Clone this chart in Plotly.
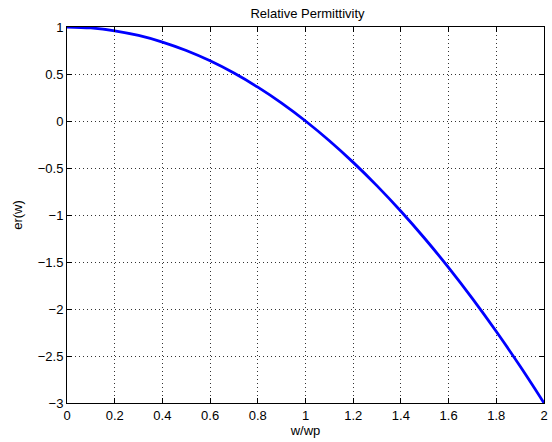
import plotly.graph_objects as go

# Values
w_over_wp = [0.0, 0.1, 0.2, 0.3, 0.4, 0.5, 0.6, 0.7, 0.8, 0.9, 1.0,
             1.1, 1.2, 1.3, 1.4, 1.5, 1.6, 1.7, 1.8, 1.9, 2.0]
er_w = [1.0, 0.99, 0.96, 0.91, 0.84, 0.75, 0.64, 0.51, 0.36, 0.19, 0.0,
        -0.21, -0.44, -0.69, -0.96, -1.25, -1.56, -1.89, -2.24, -2.61, -3.0]

x_ticks = [0, 0.2, 0.4, 0.6, 0.8, 1, 1.2, 1.4, 1.6, 1.8, 2]
x_tick_labels = ["0", "0.2", "0.4", "0.6", "0.8", "1", "1.2", "1.4", "1.6", "1.8", "2"]
y_ticks = [1, 0.5, 0, -0.5, -1, -1.5, -2, -2.5, -3]
y_tick_labels = ["1", "0.5", "0", "\u22120.5", "\u22121", "\u22121.5", "\u22122", "\u22122.5", "\u22123"]

FONT = "Liberation Sans, Arial, Helvetica, sans-serif"

fig = go.Figure()
fig.add_trace(go.Scatter(x=w_over_wp, y=er_w, mode="lines",
                         line=dict(color="#0000ff", width=2.8, shape="spline"),
                         showlegend=False))

axis_common = dict(
    showline=True, linecolor="black", linewidth=1, mirror="allticks",
    ticks="inside", ticklen=5, tickcolor="black", tickwidth=1,
    showgrid=True, gridcolor="rgba(0,0,0,0.8)", griddash="1px,3px", gridwidth=1,
    zeroline=False, tickfont=dict(family=FONT, size=13, color="black"),
)

fig.update_xaxes(range=[0, 2], tickmode="array", tickvals=x_ticks, ticktext=x_tick_labels,
                 title=dict(text="w/wp", font=dict(family=FONT, size=13, color="black"), standoff=3),
                 **axis_common)
fig.update_yaxes(range=[-3, 1], tickmode="array", tickvals=y_ticks, ticktext=y_tick_labels,
                 title=dict(text="er(w)", font=dict(family=FONT, size=13, color="black"), standoff=12),
                 **axis_common)

fig.update_layout(
    width=552, height=442,
    margin=dict(l=67, r=4, t=27, b=39),
    paper_bgcolor="white", plot_bgcolor="white",
    title=dict(text="Relative Permittivity", x=(67 + 548) / 2 / 552, xanchor="center",
               y=1 - 13 / 442, yanchor="middle",
               font=dict(family=FONT, size=13, color="black")),
    font=dict(family=FONT, size=13, color="black"),
)

fig.write_html("out.html")
